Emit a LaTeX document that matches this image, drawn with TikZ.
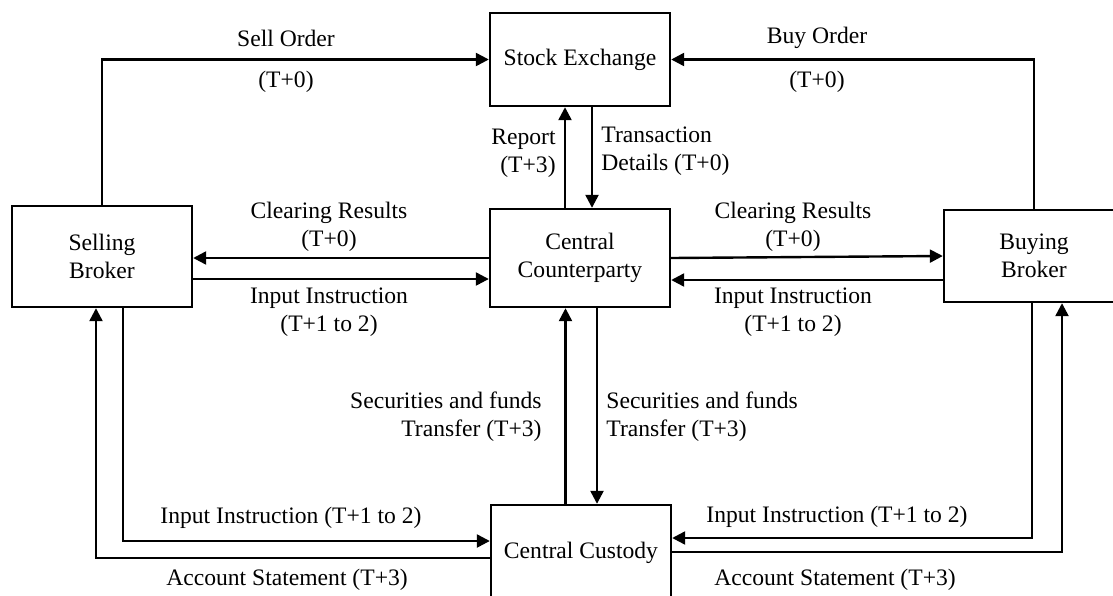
\documentclass[tikz,border=0pt]{standalone}
\usepackage{fontspec}
\setmainfont{Liberation Serif}
\usetikzlibrary{arrows.meta,calc}
\begin{document}
\begin{tikzpicture}[x=0.5pt,y=-0.5pt,
  font=\fontsize{11.8}{14}\selectfont,
  box/.style={draw,line width=1.2pt,inner sep=0pt,minimum width=90pt,align=center},
  arr/.style={line width=1.2pt,-{Triangle[length=6.5pt,width=6.5pt]}},
  lbl/.style={inner sep=0pt,align=center}]
\useasboundingbox (0,0) rectangle (1113,595);
\clip (0,0) rectangle (1113,595);
% boxes
\node[box,minimum height=46.5pt] (se) at (580,59.5) {Stock Exchange};
\node[box,minimum height=50.5pt] (sb) at (102,256.5) {Selling\\Broker};
\node[box,minimum height=49pt] (ccp) at (580,258) {Central\\Counterparty};
\node[box,minimum height=46pt] (bb) at (1034,256) {Buying\\Broker};
\node[box,minimum height=48pt] (cc) at (581,553) {Central Custody};
% orders
\draw[arr] (sb.north) |- (se.west);
\draw[arr] (bb.north) |- (se.east);
\node[lbl] (l1) at (286,38) {Sell Order};
\node[lbl] (l2) at (286,82) {(T+0)};
\node[lbl] (l3) at (817,38) {Buy Order};
\node[lbl] (l4) at (817,82) {(T+0)};
% SE <-> CCP
\draw[arr] ($(ccp.north)+(-15,0)$) -- ($(se.south)+(-15,0)$);
\draw[arr] ($(se.south)+(12,0)$) -- ($(ccp.north)+(12,0)$);
\node[lbl,anchor=east,align=right] (l5) at (556,153) {Report\\(T+3)};
\node[lbl,anchor=west,align=left] (l6) at (601,151) {Transaction\\Details (T+0)};
% SB <-> CCP
\draw[arr] (ccp.west) -- (ccp.west -| sb.east);
\coordinate (a1) at ($(sb.east)+(0,22.5)$);
\draw[arr] (a1) -- (a1 -| ccp.west);
\node[lbl] (l7) at (329,227) {Clearing Results\\(T+0)};
\node[lbl] (l8) at (329,312) {Input Instruction\\(T+1 to 2)};
% CCP <-> BB
\draw[arr] (ccp.east) -- (bb.west);
\coordinate (a2) at ($(bb.west)+(0,24)$);
\draw[arr] (a2) -- (a2 -| ccp.east);
\node[lbl] (l9) at (793,227) {Clearing Results\\(T+0)};
\node[lbl] (l10) at (793,312) {Input Instruction\\(T+1 to 2)};
% CCP <-> CC
\coordinate (m1) at ($(cc.north)+(-15.5,0)$);
\draw[arr] (m1) -- (m1 |- ccp.south);
\coordinate (m2) at ($(ccp.south)+(17,0)$);
\draw[arr] (m2) -- (m2 |- cc.north);
\node[lbl,anchor=east,align=right] (l11) at (542,417) {Securities and funds\\Transfer (T+3)};
\node[lbl,anchor=west,align=left] (l12) at (606,417) {Securities and funds\\Transfer (T+3)};
% SB <-> CC
\draw[arr] ($(sb.south)+(21,0)$) |- ($(cc.west)+(0,-12)$);
\draw[arr] ($(cc.west)+(0,5)$) -| ($(sb.south)+(-6,0)$);
\node[lbl] (l13) at (291,518) {Input Instruction (T+1 to 2)};
\node[lbl] (l14) at (287,580) {Account Statement (T+3)};
% BB <-> CC
\draw[arr] ($(bb.south)+(-2,0)$) |- ($(cc.east)+(0,-15)$);
\draw[arr] ($(cc.east)+(0,-1)$) -| ($(bb.south)+(28,0)$);
\node[lbl] (l15) at (837,517) {Input Instruction (T+1 to 2)};
\node[lbl] (l16) at (835,580) {Account Statement (T+3)};
\end{tikzpicture}
\end{document}
